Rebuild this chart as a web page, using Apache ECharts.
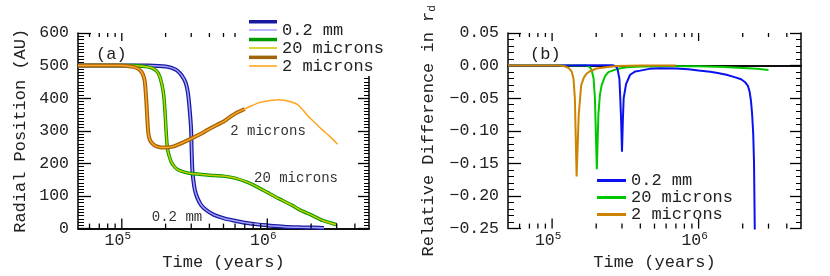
<!DOCTYPE html>
<html>
<head>
<meta charset="utf-8">
<script src="https://cdn.jsdelivr.net/npm/echarts@6/dist/echarts.min.js"></script>
<style>html,body{margin:0;padding:0;background:#fff}#c{width:830px;height:276px}</style>
</head>
<body>
<div id="c"></div>
<script>
// ---------- Panel (a): radial position (AU) vs time (years) ----------
const tBig   = [5e4, 1e5, 1.5e5, 1.8e5, 2.0e5, 2.2e5, 2.4e5, 2.6e5, 2.75e5, 2.85e5, 2.92e5, 2.99e5, 3.02e5, 3.05e5, 3.1e5, 3.18e5, 3.3e5, 3.5e5, 3.8e5, 4.3e5, 5e5, 6e5, 7e5, 8.5e5, 1e6, 1.3e6, 1.7e6, 2.1e6, 2.45e6];
const rBig   = [500, 500, 500, 499, 497, 493, 485, 468, 447, 415, 370, 310, 240, 185, 150, 118, 95, 73, 57, 42, 32, 24, 18, 13, 10, 6, 4, 3, 2];
const tMid   = [5e4, 1e5, 1.2e5, 1.4e5, 1.58e5, 1.72e5, 1.81e5, 1.88e5, 1.94e5, 1.98e5, 2.01e5, 2.04e5, 2.07e5, 2.12e5, 2.18e5, 2.28e5, 2.42e5, 2.65e5, 3e5, 4e5, 5e5, 6e5, 7.4e5, 8.5e5, 1e6, 1.2e6, 1.47e6, 1.7e6, 2e6, 2.4e6, 3e6];
const rMid   = [500, 500, 500, 498, 494, 485, 470, 445, 410, 360, 310, 265, 240, 222, 206, 192, 181, 174, 169, 164, 161, 155, 141, 128, 111, 92, 72, 56, 42, 25, 12];
const tSmall = [5e4, 1e5, 1.09e5, 1.2e5, 1.3e5, 1.36e5, 1.41e5, 1.44e5, 1.47e5, 1.49e5, 1.52e5, 1.56e5, 1.63e5, 1.72e5, 1.86e5, 2.05e5, 2.3e5, 2.6e5, 3e5, 3.5e5, 3.9e5, 4.5e5, 5.08e5, 5.65e5, 6.2e5, 7e5, 7.8e5, 8.6e5, 9.5e5, 1.05e6, 1.19e6, 1.3e6, 1.45e6, 1.63e6, 1.91e6, 2.1e6, 2.36e6, 2.7e6, 3.04e6];
const rSmall = [500, 500, 499, 496, 490, 482, 468, 450, 400, 355, 295, 272, 260, 253, 249, 249, 253, 263, 276, 291, 303, 318, 330, 345, 356, 367, 377, 385, 390, 393, 395, 394, 389, 379, 345, 327, 305, 282, 259];
const smallThickEnd = 7e5;   // the thick 2-micron run stops here

// ---------- Panel (b): relative difference in r_d ----------
const tDiffBig   = [5e4, 1e5, 2e5, 2.6e5, 2.75e5, 2.8e5, 2.88e5, 2.92e5, 2.96e5, 3.0e5, 3.04e5, 3.08e5, 3.2e5, 3.41e5, 3.7e5, 4e5, 4.6e5, 5.5e5, 7e5, 8.5e5, 1e6, 1.2e6, 1.35e6, 1.55e6, 1.76e6, 1.95e6, 2.07e6, 2.17e6, 2.23e6, 2.28e6, 2.32e6, 2.36e6, 2.39e6, 2.42e6];
const dDiffBig   = [0, 0, 0.0005, 0.0005, -0.002, -0.006, -0.02, -0.05, -0.085, -0.132, -0.085, -0.05, -0.028, -0.014, -0.009, -0.0077, -0.005, -0.004, -0.0045, -0.0055, -0.0075, -0.0095, -0.0112, -0.014, -0.0177, -0.021, -0.0251, -0.031, -0.04, -0.055, -0.075, -0.105, -0.15, -0.26];
const tDiffMid   = [5e4, 1.5e5, 1.71e5, 1.8e5, 1.86e5, 1.92e5, 1.96e5, 2.02e5, 2.07e5, 2.12e5, 2.18e5, 2.3e5, 2.42e5, 2.8e5, 3.24e5, 4e5, 6e5, 1e6, 1.5e6, 2e6, 2.5e6, 3e6];
const dDiffMid   = [0, 0, 0, -0.002, -0.006, -0.02, -0.05, -0.159, -0.075, -0.045, -0.03, -0.016, -0.01, -0.005, -0.0027, -0.0015, -0.001, -0.001, -0.002, -0.0035, -0.005, -0.0067];
const tDiffSmall = [5e4, 1.1e5, 1.22e5, 1.3e5, 1.36e5, 1.4e5, 1.43e5, 1.47e5, 1.52e5, 1.58e5, 1.65e5, 1.71e5, 1.8e5, 2.01e5, 2.4e5, 2.76e5, 4e5, 7e5];
const dDiffSmall = [0, 0, -0.001, -0.004, -0.009, -0.02, -0.05, -0.17, -0.075, -0.03, -0.018, -0.013, -0.009, -0.0045, -0.002, -0.0005, 0, 0];

// ---------- Axis ticks / labels ----------
const majorTicksX = [1e5, 1e6];
const minorTicksX = [6e4, 7e4, 8e4, 9e4, 2e5, 3e5, 4e5, 5e5, 6e5, 7e5, 8e5, 9e5, 2e6, 3e6, 4e6];
const sizeLabels = ['0.2 mm', '20 microns', '2 microns'];

const FONT = "'Liberation Mono', 'Courier New', monospace";
const TXT = '#222';

function pairs(t, v, tMax) {
  const out = [];
  for (let i = 0; i < t.length; i++) if (tMax === undefined || t[i] <= tMax) out.push([t[i], v[i]]);
  return out;
}
const tickData = majorTicksX.map(t => [t, 0, 1]).concat(minorTicksX.map(t => [t, 0, 0]));

function tickSeries(grid, yMin, yMax) {
  return {
    type: 'custom', xAxisIndex: grid * 2, yAxisIndex: grid * 2, silent: true, z: 3, clip: false,
    encode: { x: 0, y: 1 },
    data: tickData,
    renderItem: function (params, api) {
      const t = api.value(0), major = api.value(2);
      const pb = api.coord([t, yMin]), pt = api.coord([t, yMax]);
      const lb = major ? 10 : 5, lt = major ? 8 : 4;
      const st = { stroke: '#000', lineWidth: 1.3 };
      return { type: 'group', children: [
        { type: 'line', shape: { x1: pb[0], y1: pb[1], x2: pb[0], y2: pb[1] - lb }, style: st },
        { type: 'line', shape: { x1: pt[0], y1: pt[1], x2: pt[0], y2: pt[1] + lt }, style: st }
      ]};
    }
  };
}

function logLabel(v) {
  const l = Math.log10(v), e = Math.round(l);
  if (Math.abs(l - e) > 1e-6) return '';
  return '{b|10}{s|' + e + '}';
}

function xAxes(grid) {
  const base = { type: 'log', logBase: 10, min: 5e4, max: 5e6, gridIndex: grid,
    axisLine: { show: true, lineStyle: { color: '#000', width: 1.5 } },
    axisTick: { show: false }, minorTick: { show: false }, splitLine: { show: false } };
  return [
    Object.assign({}, base, { position: 'bottom',
      name: 'Time (years)', nameLocation: 'middle', nameGap: 25,
      nameTextStyle: { fontFamily: FONT, fontSize: 17, color: TXT },
      axisLabel: { show: true, margin: 2, formatter: logLabel, color: TXT,
        rich: { b: { fontFamily: FONT, fontSize: 16.5, color: TXT },
                s: { fontFamily: FONT, fontSize: 11, color: TXT, padding: [0, 8, 9, 0] } } } }),
    Object.assign({}, base, { position: 'top', axisLabel: { show: false } })
  ];
}

function yAxes(grid, min, max, interval, minorSplit, fmt, name, nameGap) {
  const base = { type: 'value', gridIndex: grid, min: min, max: max, interval: interval,
    axisLine: { show: true, lineStyle: { color: '#000', width: 1.5 } },
    splitLine: { show: false } };
  return [
    Object.assign({}, base, { position: 'left',
      name: name, nameLocation: 'middle', nameGap: nameGap,
      nameTextStyle: { fontFamily: FONT, fontSize: 17, color: TXT,
        rich: { n: { fontFamily: FONT, fontSize: 17, color: TXT }, sub: { fontFamily: FONT, fontSize: 11, color: TXT, padding: [8, 0, 0, 0] } } },
      axisTick: { show: true, inside: true, length: 13, lineStyle: { color: '#000', width: 1.3 } },
      minorTick: { show: true, splitNumber: minorSplit, length: 6, lineStyle: { color: '#000', width: 1 } },
      axisLabel: { show: true, margin: 9, fontFamily: FONT, fontSize: 16.5, color: TXT, formatter: fmt } }),
    Object.assign({}, base, { position: 'right',
      axisTick: { show: true, inside: true, length: 11, lineStyle: { color: '#000', width: 1.3 } },
      minorTick: { show: true, splitNumber: minorSplit, length: 5, lineStyle: { color: '#000', width: 1 } },
      axisLabel: { show: false } })
  ];
}

function line(name, data, color, width, grid, z) {
  return { name: name, type: 'line', data: data, xAxisIndex: grid * 2, yAxisIndex: grid * 2,
    showSymbol: false, symbol: 'none', smooth: grid === 0 ? 0.25 : false, z: z,
    lineStyle: { color: color, width: width }, itemStyle: { color: color }, silent: true };
}

const C = {
  bigDark: '#1818a0', bigLight: '#a4a4ff',
  midDark: '#009a00', midLight: '#cccc00',
  smallDark: '#a0640c', smallLight: '#ffa522',
  diffBig: '#0a10ee', diffMid: '#00c800', diffSmall: '#cc8400'
};

const series = [
  line('a:0.2 mm:dark', pairs(tBig, rBig), C.bigDark, 4, 0, 2),
  line('a:0.2 mm', pairs(tBig, rBig), C.bigLight, 1.5, 0, 2),
  line('a:20 microns:dark', pairs(tMid, rMid), C.midDark, 3.5, 0, 2),
  line('a:20 microns', pairs(tMid, rMid), C.midLight, 1.5, 0, 2),
  line('a:2 microns:dark', pairs(tSmall, rSmall, smallThickEnd), C.smallDark, 4, 0, 2),
  line('a:2 microns', pairs(tSmall, rSmall), C.smallLight, 1.5, 0, 2),
  line('20 microns', pairs(tDiffMid, dDiffMid), C.diffMid, 2, 1, 2),
  line('0.2 mm', pairs(tDiffBig, dDiffBig), C.diffBig, 2, 1, 2),
  line('2 microns', pairs(tDiffSmall, dDiffSmall), C.diffSmall, 2, 1, 2),
  tickSeries(0, 0, 600),
  tickSeries(1, -0.25, 0.05)
];

const minusFmt = v => (v < 0 ? '\u2212' : '') + Math.abs(v).toFixed(2);

const option = {
  animation: false,
  backgroundColor: '#fff',
  grid: [
    { left: 78, top: 33, width: 291, height: 201 },
    { left: 508, top: 33, width: 293, height: 201 }
  ],
  xAxis: xAxes(0).concat(xAxes(1)),
  yAxis: yAxes(0, 0, 600, 100, 10, v => String(v), 'Radial Position (AU)', 49)
    .concat(yAxes(1, -0.25, 0.05, 0.05, 5, minusFmt, '{n|Relative Difference in r}{sub|d}', 70)),
  legend: [
    { // thick runs (panel a): white box, no text
      z: 4, left: 244, top: 12, orient: 'vertical', padding: [8, 108, 17, 5], itemGap: 14.3,
      icon: 'rect', itemWidth: 28, itemHeight: 3.5, backgroundColor: '#fff', selectedMode: false,
      data: ['a:0.2 mm:dark', 'a:20 microns:dark', 'a:2 microns:dark'],
      formatter: () => '',
      textStyle: { fontFamily: FONT, fontSize: 17, color: TXT }
    },
    { // thin runs (panel a): with labels
      z: 5, left: 249, top: 21, orient: 'vertical', padding: 0, itemGap: 0,
      icon: 'rect', itemWidth: 28, itemHeight: 1.6, selectedMode: false,
      data: ['a:0.2 mm', 'a:20 microns', 'a:2 microns'],
      formatter: n => n.slice(2),
      textStyle: { fontFamily: FONT, fontSize: 17, color: TXT, lineHeight: 14, padding: [4, 0, 0, 0] }
    },
    { // panel b
      left: 597, top: 172, orient: 'vertical', padding: 0, itemGap: 0,
      icon: 'rect', itemWidth: 29, itemHeight: 3, selectedMode: false,
      data: sizeLabels,
      textStyle: { fontFamily: FONT, fontSize: 17, color: TXT, lineHeight: 15.5 }
    }
  ],
  graphic: [
    { type: 'text', left: 96, top: 46, style: { text: '(a)', font: '17px ' + FONT, fill: TXT } },
    { type: 'text', left: 530, top: 46, style: { text: '(b)', font: '17px ' + FONT, fill: TXT } },
    { type: 'text', x: 268, y: 131, style: { text: '2 microns', font: '14px ' + FONT, fill: '#333', align: 'center', verticalAlign: 'middle' } },
    { type: 'text', x: 296, y: 178, style: { text: '20 microns', font: '14px ' + FONT, fill: '#333', align: 'center', verticalAlign: 'middle' } },
    { type: 'text', x: 177, y: 217, style: { text: '0.2 mm', font: '14px ' + FONT, fill: '#333', align: 'center', verticalAlign: 'middle' } }
  ],
  series: series
};

const chart = echarts.init(document.getElementById('c'), null, { renderer: 'canvas' });
chart.setOption(option);
</script>
</body>
</html>
